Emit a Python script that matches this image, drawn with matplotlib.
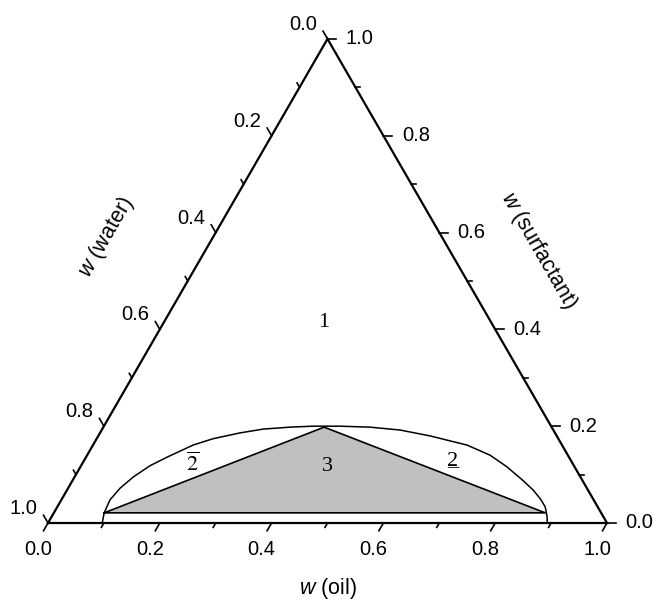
import numpy as np
import matplotlib
matplotlib.use("Agg")
import matplotlib.pyplot as plt

plt.rcParams["font.family"] = ["Liberation Sans", "DejaVu Sans"]
plt.rcParams["mathtext.fontset"] = "custom"
plt.rcParams["mathtext.it"] = "Liberation Sans:italic"
plt.rcParams["mathtext.rm"] = "Liberation Sans"

# axis ticks (same scale on all three sides)
major_vals = [0.0, 0.2, 0.4, 0.6, 0.8, 1.0]
minor_vals = [0.1, 0.3, 0.5, 0.7, 0.9]
major_labels = ["0.0", "0.2", "0.4", "0.6", "0.8", "1.0"]

# binodal curve, mass fractions (oil, surfactant)
binodal_oil = [0.097, 0.090, 0.087, 0.093, 0.105, 0.123, 0.145, 0.179, 0.208,
               0.250, 0.288, 0.334, 0.374, 0.422, 0.477, 0.534, 0.593, 0.669,
               0.721, 0.763, 0.804, 0.834, 0.858, 0.873, 0.887, 0.893]
binodal_surf = [0.000, 0.021, 0.048, 0.072, 0.095, 0.118, 0.136, 0.161, 0.174,
                0.186, 0.194, 0.198, 0.200, 0.200, 0.198, 0.192, 0.180, 0.161,
                0.140, 0.116, 0.089, 0.068, 0.048, 0.033, 0.012, 0.000]

# three phase triangle
tri_oil = [0.090, 0.395, 0.879]
tri_surf = [0.021, 0.198, 0.021]

# region labels: (text, oil, surfactant)
regions = [("1", 0.285, 0.415), ("3", 0.441, 0.116)]
bar2_pos = (0.199, 0.120)
under2_pos = (0.660, 0.128)

H = np.sqrt(3) / 2


def tern(oil, surf):
    oil = np.asarray(oil, float)
    surf = np.asarray(surf, float)
    return oil + surf / 2, surf * H


fig = plt.figure(figsize=(6.54, 6.01), dpi=100)
ax = fig.add_axes([0, 0, 1, 1])
ax.set_xlim(-48 / 559, 606 / 559)
ax.set_ylim(-78 / 559, 523 / 559)
ax.set_aspect("equal")
ax.axis("off")

# shaded three phase region
tx, ty = tern(tri_oil, tri_surf)
ax.fill(tx, ty, color="#c0c0c0", lw=0, zorder=1)
ax.plot(np.append(tx, tx[0]), np.append(ty, ty[0]), color="black", lw=1.2, zorder=2)

bx, by = tern(binodal_oil, binodal_surf)
ax.plot(bx, by, color="black", lw=1.1, zorder=2)

# triangle frame
ax.plot([0, 1, 0.5, 0], [0, 0, H, 0], color="black", lw=1.6,
        solid_joinstyle="miter", zorder=3)

L_major, L_minor = 0.016, 0.009
tick_kw = dict(color="black", lw=1.2, zorder=3)

for vals, L in ((major_vals, L_major), (minor_vals, L_minor)):
    for v in vals:
        # bottom: oil
        ax.plot([v, v - 0.5 * L], [0, -H * L], **tick_kw)
        # left: water, ticks parallel to right edge
        px, py = 0.5 * (1 - v), H * (1 - v)
        ax.plot([px, px - 0.5 * L], [py, py + H * L], **tick_kw)
        # right: surfactant, horizontal ticks
        px, py = 1 - v / 2, H * v
        ax.plot([px, px + L], [py, py], **tick_kw)

fs = 14.5
for v, lab in zip(major_vals, major_labels):
    ax.text(v - 0.018, -0.047, lab, ha="center", va="center", fontsize=fs)
    ax.text(0.5 * (1 - v) - 0.044, H * (1 - v) + 0.026, lab,
            ha="center", va="center", fontsize=fs)
    ax.text(1 - v / 2 + 0.058, H * v, lab, ha="center", va="center", fontsize=fs)

ax.text(0.501, -0.117, r"$\mathit{w}$ (oil)", ha="center", va="center", fontsize=15.5)
ax.text(0.104, 0.512, r"$\mathit{w}$ (water)", ha="center", va="center",
        fontsize=15.5, rotation=60, rotation_mode="anchor")
ax.text(0.878, 0.488, r"$\mathit{w}$ (surfactant)", ha="center", va="center",
        fontsize=15.5, rotation=-60, rotation_mode="anchor")

serif = ["Liberation Serif", "DejaVu Serif"]
for lab, o, s in regions:
    x, y = tern(o, s)
    ax.text(x, y, lab, ha="center", va="center", fontsize=16, family=serif, zorder=4)

x, y = tern(*bar2_pos)
ax.text(x, y, r"$\overline{2}$", ha="center", va="center", fontsize=16,
        math_fontfamily="stix", zorder=4)
x, y = tern(*under2_pos)
ax.text(x, y, "2", ha="center", va="center", fontsize=16, family=serif, zorder=4)
ax.text(x, y, "_", ha="center", va="center", fontsize=16, family=serif, zorder=4)

fig.savefig("out.png", dpi=100)
